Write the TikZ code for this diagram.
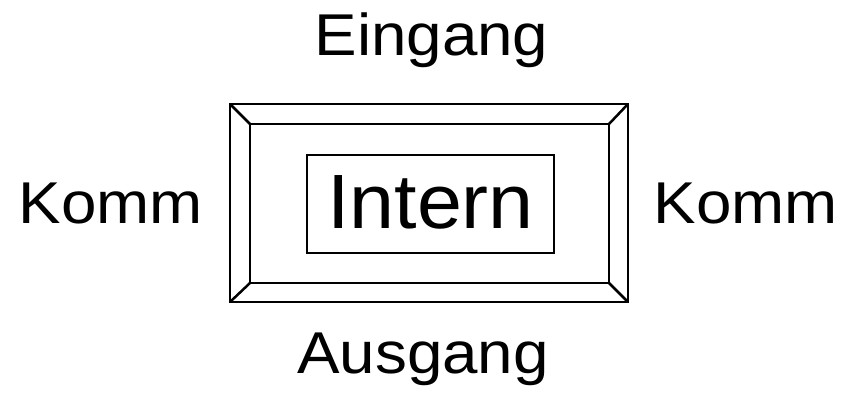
\documentclass[tikz,border=0pt]{standalone}
\usepackage{fontspec}
\setmainfont{Liberation Sans}
\begin{document}
\begin{tikzpicture}[x=1pt,y=-1pt,
  frameline/.style={draw=black,line width=2.8pt,inner sep=0pt,outer sep=0pt},
  bevel/.style={line width=2.5pt},
  lbl/.style={anchor=base,inner sep=0pt,font=\fontsize{59}{61}\selectfont},
  big/.style={anchor=base,inner sep=0pt,font=\fontsize{77}{80}\selectfont}]
\useasboundingbox (0,0) rectangle (843,393);
% outer frame, inner frame and the central box
\node[frameline,minimum width=398pt,minimum height=198pt] (outer) at (429,203) {};
\node[frameline,minimum width=359pt,minimum height=159pt] (frame) at (429.5,203.5) {};
\node[frameline,minimum width=247pt,minimum height=98pt] (box) at (430.5,204) {};
% bevel corners
\draw[bevel] (outer.north west) -- (frame.north west);
\draw[bevel] (outer.north east) -- (frame.north east);
\draw[bevel] (outer.south west) -- (frame.south west);
\draw[bevel] (outer.south east) -- (frame.south east);
% labels
\node[big] (intern) at (430.5,228) {\scalebox{1.05}[1]{Intern}};
\node[lbl] (ein) at (431.5,56) {\scalebox{1.08}[1]{Eingang}};
\node[lbl] (aus) at (423,373) {\scalebox{1.08}[1]{Ausgang}};
\node[lbl] (kl) at (111,223) {\scalebox{1.08}[1]{Komm}};
\node[lbl] (kr) at (746,223) {\scalebox{1.08}[1]{Komm}};
\end{tikzpicture}
\end{document}
